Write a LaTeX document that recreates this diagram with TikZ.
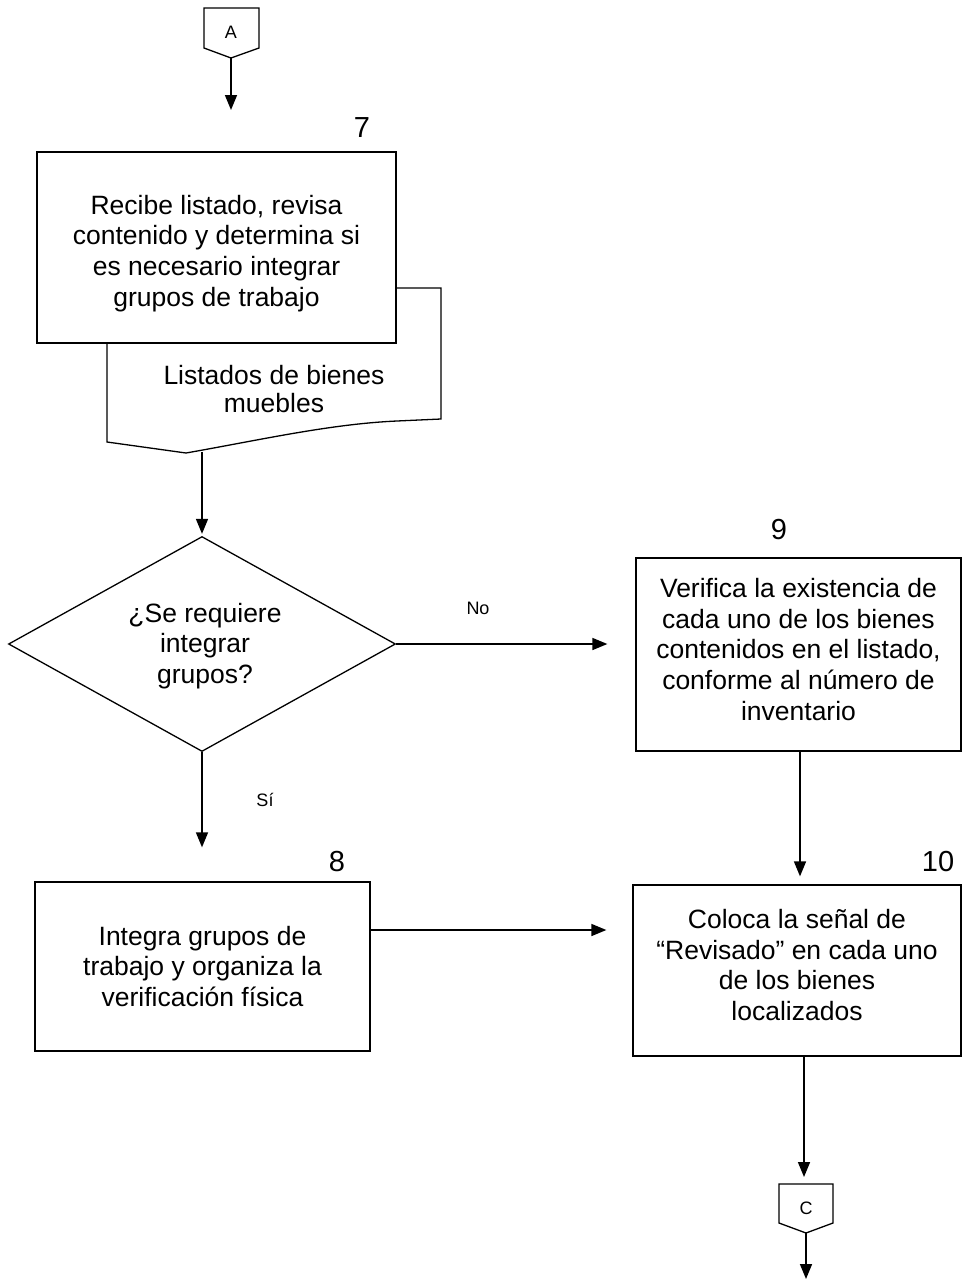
\documentclass[tikz,border=0pt]{standalone}
\usepackage{fontspec}
\setmainfont{Liberation Sans}
\usetikzlibrary{arrows.meta,shapes.geometric}
\begin{document}
\begin{tikzpicture}[x=1pt,y=-1pt,
  line width=1.3pt,
  flow/.style={-{Triangle[length=15pt,width=12pt]}, line width=1.6pt},
  procbox/.style={draw, rectangle, inner sep=0pt},
  bodytext/.style={align=center, inner sep=0pt, font=\fontsize{26.5}{30.8}\selectfont},
  stepnum/.style={inner sep=0pt, font=\fontsize{29}{32}\selectfont},
  lbl/.style={inner sep=0pt, font=\fontsize{18}{20}\selectfont},
  connector/.style={inner sep=0pt, font=\fontsize{18}{20}\selectfont},
]
\useasboundingbox (0,0) rectangle (962,1280);

% off-page connector A
\node[connector] (conA) at (231,32) {A};
\draw (204,8) -- (259,8) -- (259,48) -- (231,58) -- (204,48) -- cycle;
\coordinate (conAtip) at (231,58);
\coordinate (conAend) at (231,110);
\draw[flow] (conAtip) -- (conAend);

% step 7 with its document
\draw (107,343) -- (107,442) -- (186,453)
  .. controls (260,440) and (330,424) .. (397,421) -- (441,419)
  -- (441,288) -- (396,288);
\node[bodytext, font=\fontsize{26.5}{28.5}\selectfont] (doc) at (274,389) {Listados de bienes\\muebles};
\node[procbox, minimum width=359pt, minimum height=191pt] (b7) at (216.5,247.5) {};
\node[bodytext] (b7t) at (216.5,253.5)
  {Recibe listado, revisa\\contenido y determina si\\es necesario integrar\\grupos de trabajo};
\node[stepnum] (n7) at (362,128) {7};
\coordinate (docb) at (202,452);

% decision
\node[draw, diamond, minimum width=387pt, minimum height=215pt, inner sep=0pt] (q) at (202,644) {};
\node[bodytext] (qt) at (205,646) {¿Se requiere\\integrar\\grupos?};
\draw[flow, shorten >=2pt] (docb) -- (q.north);

% step 9
\node[procbox, minimum width=325pt, minimum height=193pt] (b9) at (798.5,654.5) {};
\node[bodytext] (b9t) at (798.5,649.5)
  {Verifica la existencia de\\cada uno de los bienes\\contenidos en el listado,\\conforme al número de\\inventario};
\node[stepnum] (n9) at (779,530) {9};
\draw[flow, shorten >=28pt] (q.east) -- (b9.west |- q.east);
\node[lbl] (no) at (478,608) {No};

% step 8
\node[procbox, minimum width=335pt, minimum height=169pt] (b8) at (202.5,966.5) {};
\node[bodytext] (b8t) at (202.5,966.5)
  {Integra grupos de\\trabajo y organiza la\\verificación física};
\node[stepnum] (n8) at (337,862) {8};
\draw[flow, shorten >=34pt] (q.south) -- (b8.north -| q.south);
\node[lbl] (si) at (265,800) {Sí};

% step 10
\node[procbox, minimum width=328pt, minimum height=171pt] (b10) at (797,970.5) {};
\node[bodytext] (b10t) at (797,965)
  {Coloca la señal de\\“Revisado” en cada uno\\de los bienes\\localizados};
\node[stepnum] (n10) at (938,862) {10};
\draw[flow, shorten >=8pt] (b9.south -| 800,0) -- (b10.north -| 800,0);
\draw[flow, shorten >=26pt] (b8.east |- 0,930) -- (b10.west |- 0,930);

% off-page connector C
\node[connector] (conC) at (806,1208) {C};
\draw (779,1184) -- (833,1184) -- (833,1223) -- (806,1233) -- (779,1223) -- cycle;
\coordinate (conCtop) at (804,1184);
\coordinate (conCtip) at (806,1233);
\coordinate (conCend) at (806,1279);
\draw[flow, shorten >=7pt] (b10.south -| conCtop) -- (conCtop);
\draw[flow] (conCtip) -- (conCend);
\end{tikzpicture}
\end{document}
